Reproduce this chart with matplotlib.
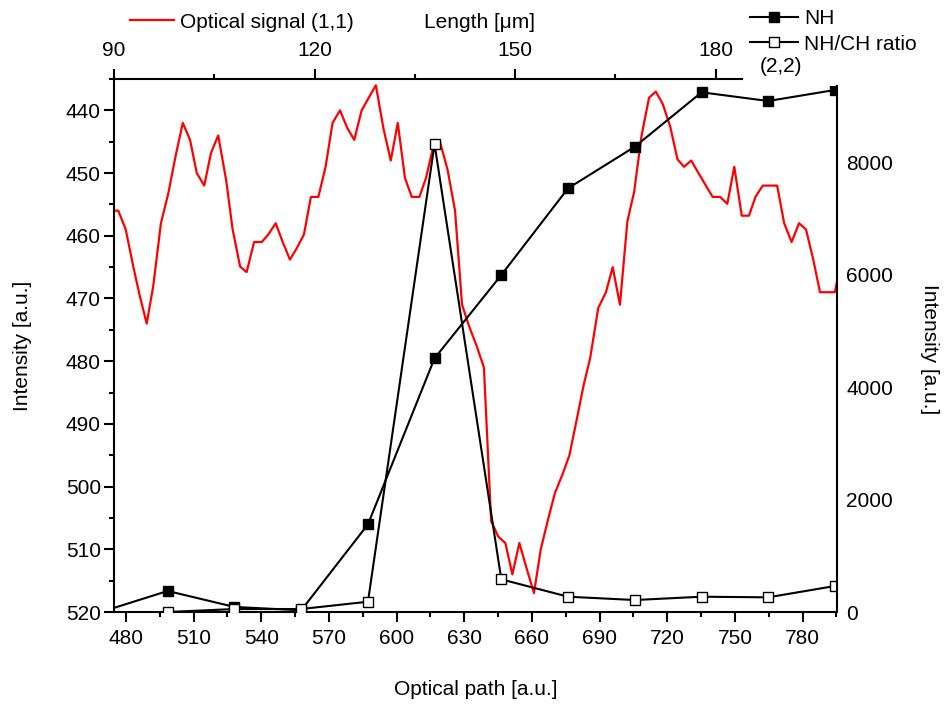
import matplotlib.pyplot as plt
from matplotlib.ticker import MultipleLocator

# optical signal (left axis, inverted)
optical_x = [473.5, 476.6, 479.9, 483.3, 486.2, 489.2, 492.1, 495.5, 498.8, 502.0,
             505.2, 508.4, 511.4, 514.7, 517.7, 520.9, 524.4, 527.3, 530.6, 533.5,
             536.8, 540.2, 543.1, 546.4, 549.5, 552.7, 555.7, 558.9, 562.0, 565.3,
             568.5, 571.6, 574.9, 578.1, 581.2, 584.5, 587.6, 590.8, 594.1, 597.4,
             600.5, 603.7, 606.7, 610.1, 613.0, 616.3, 619.2, 622.6, 625.9, 629.0,
             632.2, 635.4, 638.7, 641.9, 645.1, 648.2, 651.3, 654.4, 657.6, 660.9,
             663.9, 667.3, 670.2, 673.6, 676.6, 679.8, 682.8, 685.8, 689.4, 692.8,
             695.8, 699.0, 702.3, 705.3, 708.6, 711.9, 714.9, 718.0, 721.3, 724.5,
             727.4, 730.6, 733.8, 737.1, 740.1, 743.4, 746.6, 749.7, 753.0, 756.2,
             759.1, 762.3, 765.5, 768.7, 771.8, 775.1, 778.4, 781.5, 784.7, 787.7,
             791.0, 794.3, 797.5]
optical_y = [456, 456, 459, 465, 469.7, 474, 468, 458, 453.2, 447.3,
             442, 444.7, 450, 452, 446.8, 444, 451.1, 459, 464.9, 465.8,
             461, 461, 459.8, 458, 461, 463.8, 462, 459.8, 453.8, 453.8,
             449, 442, 440, 442.8, 444.7, 440, 438, 436, 442.8, 448,
             442, 450.8, 453.8, 453.8, 450.8, 445.7, 445, 449.5, 456, 471,
             474.5, 477.5, 481, 505.5, 508, 509, 514, 509, 513, 517,
             510, 505, 501, 498, 495, 489.4, 484, 479.5, 471.5, 469,
             465, 471, 457.7, 453, 444, 438, 437, 439, 442.6, 447.8,
             449, 448, 450, 452, 453.8, 453.8, 454.9, 449, 456.8, 456.8,
             453.8, 452, 452, 452, 458, 461, 458, 459, 463.8, 469,
             469, 469, 463]

# NH and NH/CH ratio (right axis)
nh_x = [468.9, 498.5, 528.1, 557.7, 587.3, 616.8, 646.4, 676.0, 705.6, 735.2, 764.7, 794.3]
nh_y = [0, 374, 90, 30, 1560, 4513, 5995, 7538, 8278, 9246, 9091, 9287]
ratio_x = [498.5, 528.1, 557.7, 587.3, 616.8, 646.4, 676.0, 705.6, 735.2, 764.7, 794.3]
ratio_y = [0, 53, 53, 183, 8327, 581, 272, 213, 272, 261, 462]

right_ticks = [0, 2000, 4000, 6000, 8000]

plt.rcParams['font.family'] = ['Liberation Sans', 'DejaVu Sans']
plt.rcParams['font.size'] = 15

W, H = 948, 704
L = 114 / W
R = 836.7 / W
B = 1 - 612 / H
T1 = 1 - 79 / H
T2 = 1 - 86 / H
R_top = 741.7 / W

fig = plt.figure(figsize=(W / 100, H / 100), dpi=100)

# layer 1: optical signal
ax1 = fig.add_axes([L, B, R - L, T1 - B])
red_line, = ax1.plot(optical_x, optical_y, color='red', lw=1.6)
ax1.set_xlim(474.7, 795.1)
ax1.set_ylim(520, 435)
ax1.spines['top'].set_visible(False)
ax1.spines['right'].set_visible(False)
ax1.spines['left'].set_linewidth(1.5)
ax1.spines['bottom'].set_linewidth(1.5)
ax1.xaxis.set_major_locator(MultipleLocator(30))
ax1.xaxis.set_minor_locator(MultipleLocator(15))
ax1.yaxis.set_major_locator(MultipleLocator(10))
ax1.yaxis.set_minor_locator(MultipleLocator(5))
ax1.tick_params(which='major', direction='out', length=7, width=1.5)
ax1.tick_params(which='minor', direction='out', length=3.5, width=1.5)
ax1.tick_params(axis='x', which='both', pad=5)
ax1.tick_params(axis='y', which='both', pad=2.5)
ax1.set_xlabel('Optical path [a.u.]', labelpad=23)
ax1.set_ylabel('Intensity [a.u.]', labelpad=24)

# layer 2: NH and ratio on right axis
ax2 = fig.add_axes([L, B, R - L, T2 - B])
ax2.set_facecolor('none')
nh_line, = ax2.plot(nh_x, nh_y, color='black', lw=1.5, marker='s', ms=7.5,
                    mfc='black', mec='black')
ratio_line, = ax2.plot(ratio_x, ratio_y, color='black', lw=1.5, marker='s', ms=7.5,
                       mfc='white', mec='black', mew=1)
ax2.set_xlim(474.7, 795.1)
ax2.set_ylim(0, 9358)
for s in ['top', 'left', 'bottom']:
    ax2.spines[s].set_visible(False)
ax2.spines['right'].set_linewidth(1.5)
ax2.set_xticks([])
ax2.yaxis.tick_right()
ax2.yaxis.set_label_position('right')
ax2.set_yticks(right_ticks)
ax2.tick_params(axis='y', length=0, pad=7)
ax2.set_ylabel('Intensity [a.u.]', rotation=270, va='bottom', labelpad=19)

# top axis: length
ax3 = fig.add_axes([L, B, R_top - L, T1 - B])
ax3.set_facecolor('none')
for s in ['right', 'left', 'bottom']:
    ax3.spines[s].set_visible(False)
ax3.spines['top'].set_linewidth(1.5)
ax3.set_yticks([])
ax3.set_xlim(90, 183.9)
ax3.xaxis.tick_top()
ax3.xaxis.set_major_locator(MultipleLocator(30))
ax3.xaxis.set_minor_locator(MultipleLocator(15))
ax3.tick_params(which='major', direction='out', length=7, width=1.5, pad=6.5)
ax3.tick_params(which='minor', direction='out', length=3.5, width=1.5)
fig.text(479 / W, 1 - 22 / H, 'Length [μm]', ha='center', va='center')

# legends
fig.legend(handles=[red_line], labels=['Optical signal (1,1)'], loc='center left',
           bbox_to_anchor=(130 / W, 1 - 22 / H), frameon=False, handlelength=2.1,
           handletextpad=0.3, borderpad=0, borderaxespad=0)
fig.legend(handles=[nh_line, ratio_line], labels=['NH', 'NH/CH ratio'], loc='center left',
           bbox_to_anchor=(750 / W, 1 - 31.5 / H), frameon=False, handlelength=2.3,
           handletextpad=0.3, labelspacing=0.3, borderpad=0, borderaxespad=0)
fig.text(781 / W, 1 - 66 / H, '(2,2)', ha='center', va='center')

fig.savefig('out.png', dpi=100)
